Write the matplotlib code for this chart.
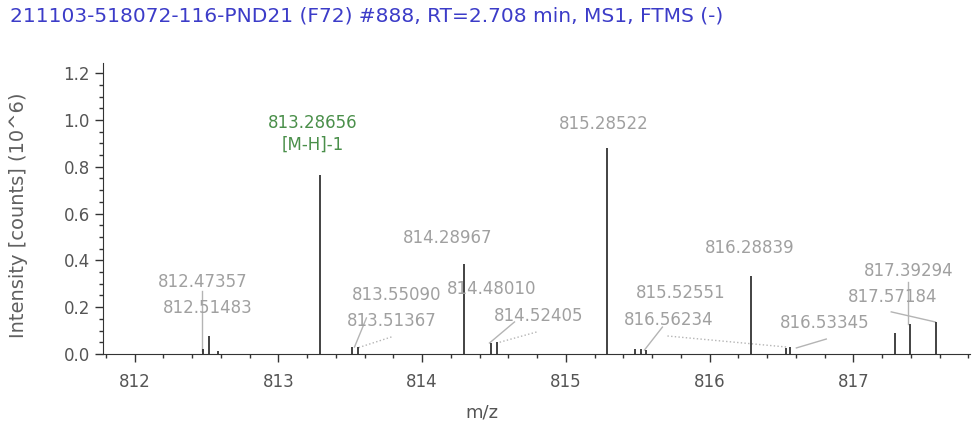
import matplotlib.pyplot as plt
from matplotlib.ticker import MultipleLocator

# peaks (m/z, intensity in 10^6 counts)
peak_mz = [812.47357, 812.51483, 812.58, 813.28656, 813.51367, 813.55090,
           814.28967, 814.48010, 814.52405, 815.28522, 815.48, 815.52551,
           815.56, 816.28839, 816.53345, 816.56234, 817.29, 817.39294,
           817.57184]
peak_int = [0.02, 0.077, 0.012, 0.765, 0.028, 0.03,
            0.385, 0.045, 0.052, 0.88, 0.02, 0.022,
            0.018, 0.333, 0.025, 0.028, 0.09, 0.128,
            0.137]

# peak labels: text, x, y (data coords)
label_text = ["815.28522", "814.28967", "816.28839", "812.47357", "812.51483",
              "813.55090", "813.51367", "814.48010", "814.52405", "815.52551",
              "816.56234", "816.53345", "817.39294", "817.57184"]
label_x = [815.261, 814.177, 816.277, 812.473, 812.507,
           813.822, 813.787, 814.482, 814.81, 815.797,
           815.713, 816.798, 817.388, 817.271]
label_y = [0.983, 0.496, 0.453, 0.308, 0.197,
           0.252, 0.141, 0.278, 0.162, 0.26,
           0.145, 0.132, 0.355, 0.244]

# leader lines: x0, y0, x1, y1, linestyle
leaders = [
    (812.466, 0.27, 812.466, 0.015, '-'),
    (813.613, 0.154, 813.53, 0.03, '-'),
    (813.787, 0.073, 813.551, 0.026, ':'),
    (814.643, 0.137, 814.469, 0.047, '-'),
    (814.796, 0.094, 814.538, 0.05, ':'),
    (815.672, 0.115, 815.547, 0.017, '-'),
    (815.707, 0.077, 816.534, 0.03, ':'),
    (816.812, 0.064, 816.604, 0.026, '-'),
    (817.383, 0.308, 817.383, 0.128, '-'),
    (817.264, 0.18, 817.57, 0.137, '-'),
]

plt.rcParams['font.family'] = ['DejaVu Sans']

fig = plt.figure(figsize=(9.75, 4.33), dpi=100)
ax = fig.add_axes([0.1056, 0.1824, 0.889, 0.672])

for x0, y0, x1, y1, ls in leaders:
    ax.plot([x0, x1], [y0, y1], color='#b4b4b4', lw=1.0, ls=ls)

ax.vlines(peak_mz, 0, peak_int, color='#222222', lw=1.2)

for t, x, y in zip(label_text, label_x, label_y):
    ax.text(x, y, t, color='#a0a0a0', fontsize=12, ha='center', va='center')

ax.text(813.238, 0.987, "813.28656", color='#4a8f4a', fontsize=12,
        ha='center', va='center')
ax.text(813.238, 0.893, "[M-H]-1", color='#4a8f4a', fontsize=12,
        ha='center', va='center')

ax.set_xlim(811.78, 817.81)
ax.set_ylim(0, 1.243)
ax.xaxis.set_major_locator(MultipleLocator(1))
ax.xaxis.set_minor_locator(MultipleLocator(0.2))
ax.yaxis.set_major_locator(MultipleLocator(0.2))
ax.yaxis.set_minor_locator(MultipleLocator(0.05))
ax.yaxis.set_major_formatter(plt.FormatStrFormatter('%.1f'))
ax.tick_params(axis='both', which='major', length=6, width=1,
               color='#333333', labelcolor='#555555', labelsize=12)
ax.tick_params(axis='both', which='minor', length=3, width=1,
               color='#333333')
ax.tick_params(axis='x', pad=8)
ax.spines['top'].set_visible(False)
ax.spines['right'].set_visible(False)
ax.spines['left'].set_color('#333333')
ax.spines['bottom'].set_color('#333333')

ax.set_xlabel('m/z', color='#555555', fontsize=13)
ax.xaxis.set_label_coords(0.437, -0.17)
ax.set_ylabel('Intensity [counts] (10^6)', color='#606060', fontsize=14)
ax.yaxis.set_label_coords(-0.086, 0.478)

fig.text(0.01, 0.963, "211103-518072-116-PND21 (F72) #888, RT=2.708 min, MS1, FTMS (-)",
         color='#3c3cc8', fontsize=14.5, ha='left', va='center')

fig.savefig('out.png', dpi=100)
